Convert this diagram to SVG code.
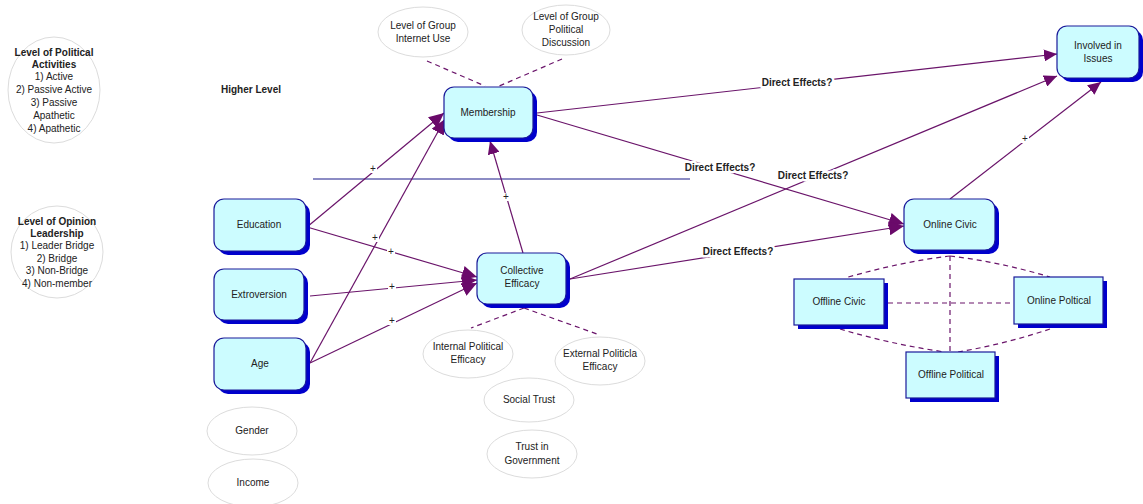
<svg xmlns="http://www.w3.org/2000/svg" width="1143" height="504" viewBox="0 0 1143 504">
<style>
text{font-family:"Liberation Sans",Arial,sans-serif;font-size:10px;fill:#222;text-anchor:middle}
.b{font-weight:bold}
.sh{fill:#0000cc}
.bx{fill:#ccfcff;stroke:#1a1a9a;stroke-width:1.2}
.el{fill:#fff;stroke:#dcdcdc;stroke-width:1}
.c{fill:none;stroke:#6a146a;stroke-width:1.2}
.d{fill:none;stroke:#6a146a;stroke-width:1.2;stroke-dasharray:5,4}
.lb{stroke:#fff;stroke-width:5;paint-order:stroke;stroke-linejoin:round}
.pl{fill:#fff}
</style>
<defs>
<marker id="ah" markerUnits="userSpaceOnUse" markerWidth="16" markerHeight="14" refX="15" refY="7" orient="auto">
<path d="M0,0 L15,7 L0,14 z" fill="#6a0a6a"/>
</marker>
<marker id="as" markerUnits="userSpaceOnUse" markerWidth="14" markerHeight="12" refX="13" refY="6" orient="auto">
<path d="M0,0 L13,6 L0,12 z" fill="#6a0a6a"/>
</marker>
</defs>
<rect width="1143" height="504" fill="#fff"/>

<g id="connectors">
<line x1="313" y1="179" x2="690" y2="179" stroke="#1a1a8a" stroke-width="1.2"/>
<line class="c" x1="307" y1="227" x2="444" y2="113" marker-end="url(#ah)"/>
<line class="c" x1="310" y1="363" x2="445" y2="119" marker-end="url(#ah)"/>
<line class="c" x1="307" y1="227" x2="477" y2="277" marker-end="url(#ah)"/>
<line class="c" x1="310" y1="296" x2="477" y2="280" marker-end="url(#ah)"/>
<line class="c" x1="310" y1="363" x2="477" y2="283" marker-end="url(#ah)"/>
<line class="c" x1="523" y1="253" x2="490" y2="141" marker-end="url(#as)"/>
<line class="c" x1="537" y1="113" x2="1057" y2="54" marker-end="url(#as)"/>
<line class="c" x1="537" y1="115" x2="904" y2="224" marker-end="url(#ah)"/>
<line class="c" x1="570" y1="279" x2="1057" y2="76" marker-end="url(#as)"/>
<line class="c" x1="570" y1="279" x2="904" y2="226" marker-end="url(#ah)"/>
<line class="c" x1="950" y1="199" x2="1101" y2="82" marker-end="url(#as)"/>
<line class="d" x1="427" y1="61" x2="485" y2="86"/>
<line class="d" x1="562" y1="59" x2="497" y2="87"/>
<line class="d" x1="524" y1="308" x2="471" y2="328"/>
<line class="d" x1="524" y1="308" x2="597" y2="334"/>
<path class="d" d="M950,256 Q900,262 845,278"/>
<path class="d" d="M950,256 Q1000,262 1050,277"/>
<line class="d" x1="950" y1="256" x2="950" y2="352"/>
<line class="d" x1="888" y1="303" x2="1013" y2="303"/>
<path class="d" d="M840,329 Q890,344 945,352"/>
<path class="d" d="M1050,329 Q1005,344 958,352"/>
<rect class="pl" x="369" y="165" width="8" height="8"/><text x="373" y="172">+</text>
<rect class="pl" x="371" y="234" width="8" height="8"/><text x="375" y="241">+</text>
<rect class="pl" x="387" y="248" width="8" height="8"/><text x="391" y="255">+</text>
<rect class="pl" x="388" y="283" width="8" height="8"/><text x="392" y="290">+</text>
<rect class="pl" x="388" y="317" width="8" height="8"/><text x="392" y="324">+</text>
<rect class="pl" x="502" y="193" width="8" height="8"/><text x="506" y="200">+</text>
<rect class="pl" x="1021" y="135" width="8" height="8"/><text x="1025" y="142">+</text>
<text x="797" y="86" class="b lb">Direct Effects?</text>
<text x="720" y="171" class="b lb">Direct Effects?</text>
<text x="813" y="179" class="b lb">Direct Effects?</text>
<text x="738" y="255" class="b lb">Direct Effects?</text>
</g>

<g id="level-political-activities">
<ellipse class="el" cx="54" cy="90" rx="46" ry="53"/>
<text x="54" y="56" class="b">Level of Political</text>
<text x="54" y="68" class="b">Activities</text>
<text x="54" y="80">1) Active</text>
<text x="54" y="93">2) Passive Active</text>
<text x="54" y="106">3) Passive</text>
<text x="54" y="119">Apathetic</text>
<text x="54" y="132">4) Apathetic</text>
</g>
<g id="level-opinion-leadership">
<ellipse class="el" cx="57" cy="252" rx="46" ry="46"/>
<text x="57" y="225" class="b">Level of Opinion</text>
<text x="57" y="237" class="b">Leadership</text>
<text x="57" y="249">1) Leader Bridge</text>
<text x="57" y="262">2) Bridge</text>
<text x="57" y="274">3) Non-Bridge</text>
<text x="57" y="287">4) Non-member</text>
</g>
<g id="higher-level"><text x="251" y="93" class="b">Higher Level</text></g>

<g id="group-internet-use">
<ellipse class="el" cx="423" cy="32" rx="45" ry="25"/>
<text x="423" y="29">Level of Group</text>
<text x="423" y="42">Internet Use</text>
</g>
<g id="group-political-discussion">
<ellipse class="el" cx="566" cy="30" rx="44" ry="25"/>
<text x="566" y="20">Level of Group</text>
<text x="566" y="33">Political</text>
<text x="566" y="46">Discussion</text>
</g>
<g id="internal-efficacy">
<ellipse class="el" cx="468" cy="354" rx="45" ry="24"/>
<text x="468" y="350">Internal Political</text>
<text x="468" y="363">Efficacy</text>
</g>
<g id="external-efficacy">
<ellipse class="el" cx="600" cy="361" rx="45" ry="24"/>
<text x="600" y="357">External Politicla</text>
<text x="600" y="370">Efficacy</text>
</g>
<g id="social-trust">
<ellipse class="el" cx="529" cy="400" rx="45" ry="22"/>
<text x="529" y="403">Social Trust</text>
</g>
<g id="trust-government">
<ellipse class="el" cx="532" cy="454" rx="45" ry="24"/>
<text x="532" y="450">Trust in</text>
<text x="532" y="464">Government</text>
</g>
<g id="gender">
<ellipse class="el" cx="252" cy="431" rx="45" ry="24"/>
<text x="252" y="434">Gender</text>
</g>
<g id="income">
<ellipse class="el" cx="253" cy="483" rx="45" ry="24"/>
<text x="253" y="486">Income</text>
</g>

<g id="education">
<rect class="sh" x="218" y="203" width="92" height="52" rx="10"/>
<rect class="bx" x="214" y="199" width="92" height="52" rx="10"/>
<text x="259" y="228">Education</text>
</g>
<g id="extroversion">
<rect class="sh" x="218" y="273" width="90" height="51" rx="10"/>
<rect class="bx" x="214" y="269" width="90" height="51" rx="10"/>
<text x="259" y="298">Extroversion</text>
</g>
<g id="age">
<rect class="sh" x="218" y="342" width="92" height="52" rx="10"/>
<rect class="bx" x="214" y="338" width="92" height="52" rx="10"/>
<text x="260" y="367">Age</text>
</g>
<g id="membership">
<rect class="sh" x="448" y="91" width="89" height="51" rx="10"/>
<rect class="bx" x="444" y="87" width="89" height="51" rx="10"/>
<text x="488" y="116">Membership</text>
</g>
<g id="collective-efficacy">
<rect class="sh" x="481" y="257" width="89" height="51" rx="10"/>
<rect class="bx" x="477" y="253" width="89" height="51" rx="10"/>
<text x="522" y="274">Collective</text>
<text x="522" y="287">Efficacy</text>
</g>
<g id="online-civic">
<rect class="sh" x="908" y="203" width="91" height="51" rx="10"/>
<rect class="bx" x="904" y="199" width="91" height="51" rx="10"/>
<text x="950" y="228">Online Civic</text>
</g>
<g id="involved-in-issues">
<rect class="sh" x="1061" y="30" width="82" height="52" rx="10"/>
<rect class="bx" x="1057" y="26" width="82" height="52" rx="10"/>
<text x="1098" y="49">Involved in</text>
<text x="1098" y="62">Issues</text>
</g>
<g id="offline-civic">
<rect class="sh" x="798" y="283" width="90" height="46"/>
<rect class="bx" x="794" y="279" width="90" height="46"/>
<text x="839" y="305">Offline Civic</text>
</g>
<g id="online-poltical">
<rect class="sh" x="1018" y="281" width="89" height="47"/>
<rect class="bx" x="1014" y="277" width="89" height="47"/>
<text x="1059" y="304">Online Poltical</text>
</g>
<g id="offline-political">
<rect class="sh" x="910" y="356" width="89" height="46"/>
<rect class="bx" x="906" y="352" width="89" height="46"/>
<text x="951" y="378">Offline Political</text>
</g>
</svg>
